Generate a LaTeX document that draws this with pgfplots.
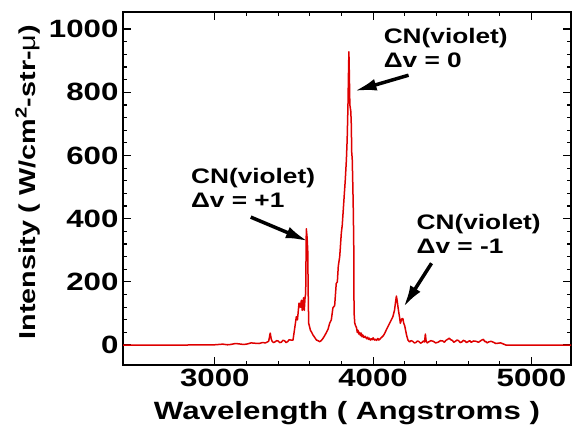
\documentclass[border=0pt]{standalone}
\usepackage{fontspec}
\setmainfont{Liberation Sans}[FakeStretch=1.25]
\usepackage{pgfplots}
\pgfplotsset{compat=1.18}
\usetikzlibrary{arrows.meta}
\definecolor{specred}{RGB}{222,0,0}
\newcommand{\tickfont}{\fontsize{25}{30}\selectfont\bfseries}
\newcommand{\annfont}{\fontsize{21}{24}\selectfont\bfseries}
\begin{document}
\begin{tikzpicture}
\begin{axis}[
  scale only axis,
  width=448pt, height=353pt,
  xmin=2420, xmax=5250,
  ymin=-63, ymax=1054,
  xtick={3000,4000,5000},
  ytick={0,200,400,600,800,1000},
  minor x tick num=4,
  minor y tick num=4,
  tick align=inside,
  major tick length=8pt,
  minor tick length=4pt,
  every tick/.style={black, line width=1.2pt},
  axis line style={line width=2.8pt},
  /pgf/number format/assume math mode=true,
  /pgf/number format/set thousands separator={},
  ticklabel style={font=\tickfont},
  xticklabel style={yshift=-1pt},
  yticklabel style={xshift=-1pt},
  xlabel={Wavelength ( Angstroms )},
  ylabel={Intensity ( W/cm\textsuperscript{2}-str-\textmd{μ})},
  xlabel style={font=\tickfont, at={(axis description cs:0.5,-0.153)}, anchor=base},
  ylabel style={font=\fontsize{23}{28}\selectfont\bfseries, at={(axis description cs:-0.212,0.518)}, anchor=center},
  clip=false,
]
\coordinate (bl) at (rel axis cs:0,0);
\coordinate (tr) at (rel axis cs:1,1);
\addplot[specred, line width=1.5pt, line join=round] coordinates {
(2420,0) (2800,0) (2900,1) (3000,1) (3050,3) (3080,1) (3100,2) (3130,5) (3150,4)
(3180,2) (3200,3) (3230,7) (3250,6) (3280,5) (3300,8) (3320,7) (3340,12)
(3350,38) (3356,20) (3362,12) (3370,8) (3380,10) (3390,14) (3400,13) (3410,8)
(3420,9) (3430,15) (3440,14) (3450,8) (3460,11) (3470,17) (3480,16) (3494,16)
(3505,55) (3515,90) (3522,80) (3532,133) (3540,120) (3547,142) (3552,110)
(3558,140) (3561,150) (3565,110) (3570,150) (3574,164) (3578,368) (3583,340)
(3587,300) (3590,160) (3593,69) (3600,55) (3604,47) (3612,40) (3620,32)
(3630,25) (3642,16) (3652,14) (3662,11) (3672,14) (3683,21) (3694,30) (3705,40)
(3715,50) (3726,70) (3736,80) (3746,118) (3757,125) (3767,195) (3774,200)
(3780,250) (3789,280) (3799,354) (3805,380) (3810,417) (3817,470) (3824,522)
(3831,585) (3836,650) (3841,755) (3844,850) (3847,928) (3850,850) (3853,760)
(3856,750) (3859,740) (3862,700) (3865,608) (3868,590) (3872,500) (3875,420)
(3878,300) (3879,150) (3880,100) (3884,70) (3888,63) (3895,55) (3900,40)
(3904,47) (3910,35) (3915,40) (3920,30) (3925,38) (3930,26) (3935,32) (3942,24)
(3950,28) (3958,20) (3965,25) (3970,18) (3975,22) (3982,16) (3988,20) (3994,17)
(4000,23) (4008,16) (4015,19) (4022,15) (4030,21) (4036,16) (4041,18) (4048,22)
(4055,25) (4065,30) (4073,37) (4085,50) (4095,60) (4104,69) (4115,80) (4125,90)
(4135,110) (4140,130) (4147,155) (4152,140) (4157,121) (4163,100) (4168,85)
(4172,69) (4178,78) (4183,84) (4188,84) (4193,70) (4200,60) (4205,47) (4212,30)
(4220,16) (4230,10) (4240,14) (4250,12) (4260,7) (4270,8) (4280,13) (4290,11)
(4300,6) (4310,9) (4318,13) (4325,10) (4330,35) (4335,12) (4342,7) (4350,10)
(4365,14) (4380,12) (4395,7) (4410,9) (4425,14) (4440,13) (4450,9) (4460,15)
(4470,18) (4481,22) (4490,17) (4500,15) (4510,9) (4520,12) (4530,16) (4540,14)
(4550,8) (4560,10) (4570,15) (4580,13) (4590,8) (4600,11) (4610,14) (4620,9)
(4635,13) (4650,12) (4665,9) (4680,14) (4690,17) (4697,18) (4705,11) (4710,12)
(4720,7) (4730,10) (4745,12) (4760,9) (4775,5) (4790,6) (4805,7) (4820,4)
(4840,0) (5250,0)
};
\node[anchor=north west, align=left, inner sep=0pt, font=\annfont] at (axis cs:4066,1003) {CN(violet)\\Δv = 0};
\node[anchor=north west, align=left, inner sep=0pt, font=\annfont] at (axis cs:2849,560) {CN(violet)\\Δv = +1};
\node[anchor=north west, align=left, inner sep=0pt, font=\annfont] at (axis cs:4274,414) {CN(violet)\\Δv = -1};
\draw[-{Latex[length=22pt,width=12pt]}, line width=3.5pt] (axis cs:4224,854) -- (axis cs:3883,804);
\draw[-{Latex[length=22pt,width=12pt]}, line width=3.5pt] (axis cs:3227,405) -- (axis cs:3587,329);
\draw[-{Latex[length=22pt,width=12pt]}, line width=3.5pt] (axis cs:4369,259) -- (axis cs:4192,120);
\end{axis}
\pgfresetboundingbox
\useasboundingbox ([shift={(-123pt,-61pt)}]bl) rectangle ([shift={(6pt,12pt)}]tr);
\end{tikzpicture}
\end{document}
